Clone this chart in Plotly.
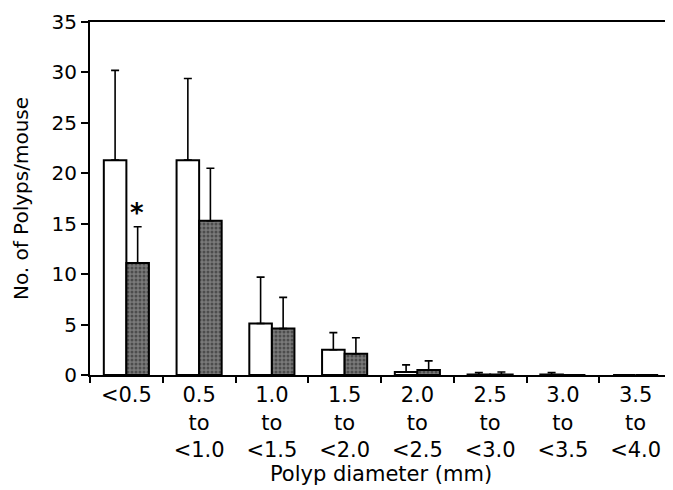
import plotly.graph_objects as go

categories = ["<0.5", "0.5<br>to<br><1.0", "1.0<br>to<br><1.5", "1.5<br>to<br><2.0",
              "2.0<br>to<br><2.5", "2.5<br>to<br><3.0", "3.0<br>to<br><3.5", "3.5<br>to<br><4.0"]
white_vals = [21.3, 21.3, 5.1, 2.5, 0.3, 0.05, 0.05, 0.0]
white_err_top = [30.2, 29.4, 9.7, 4.2, 1.0, 0.25, 0.25, 0.0]
dark_vals = [11.1, 15.3, 4.6, 2.1, 0.5, 0.05, 0.0, 0.0]
dark_err_top = [14.7, 20.5, 7.7, 3.7, 1.4, 0.3, 0.0, 0.0]

font = "DejaVu Sans, Verdana, sans-serif"

fig = go.Figure()
fig.add_trace(go.Bar(
    x=categories, y=white_vals,
    marker=dict(color="white", line=dict(color="black", width=2)),
    error_y=dict(type="data", symmetric=False,
                 array=[t - v for t, v in zip(white_err_top, white_vals)],
                 arrayminus=[0] * len(white_vals),
                 color="black", thickness=1.6, width=4),
    showlegend=False,
))
fig.add_trace(go.Bar(
    x=categories, y=dark_vals,
    marker=dict(color="#666666", line=dict(color="black", width=2),
                pattern=dict(shape=".", fgcolor="#1e1e1e", bgcolor="#7a7a7a", size=4, solidity=0.45)),
    error_y=dict(type="data", symmetric=False,
                 array=[t - v for t, v in zip(dark_err_top, dark_vals)],
                 arrayminus=[0] * len(dark_vals),
                 color="black", thickness=1.6, width=4),
    showlegend=False,
))

fig.add_annotation(x=categories[0], y=dark_err_top[0], yanchor="bottom", xshift=11, yshift=-3,
                   text="<b>*</b>", showarrow=False, font=dict(family=font, size=26, color="black"))

fig.update_layout(
    width=665, height=482,
    margin=dict(l=82, r=1, t=14, b=115),
    paper_bgcolor="white", plot_bgcolor="white",
    barmode="group", bargap=0.38, bargroupgap=0.0,
    font=dict(family=font, color="black"),
)
fig.update_xaxes(
    type="category", range=[-0.5, 7.5], automargin=False,
    showline=True, linecolor="black", linewidth=2, mirror=True,
    ticks="outside", tickson="boundaries", ticklen=6, tickwidth=2, tickcolor="black",
    tickfont=dict(family=font, size=21), showgrid=False,
    title=dict(text="Polyp diameter (mm)", font=dict(family=font, size=21), standoff=2),
)
fig.update_yaxes(
    range=[0, 35], tickvals=[0, 5, 10, 15, 20, 25, 30, 35], automargin=False,
    showline=True, linecolor="black", linewidth=2, mirror=True,
    ticks="outside", ticklen=7, tickwidth=2, tickcolor="black",
    tickfont=dict(family=font, size=20), showgrid=False, zeroline=False,
    title=dict(text="No. of Polyps/mouse", font=dict(family=font, size=20), standoff=18),
)

fig.write_html("out.html")
